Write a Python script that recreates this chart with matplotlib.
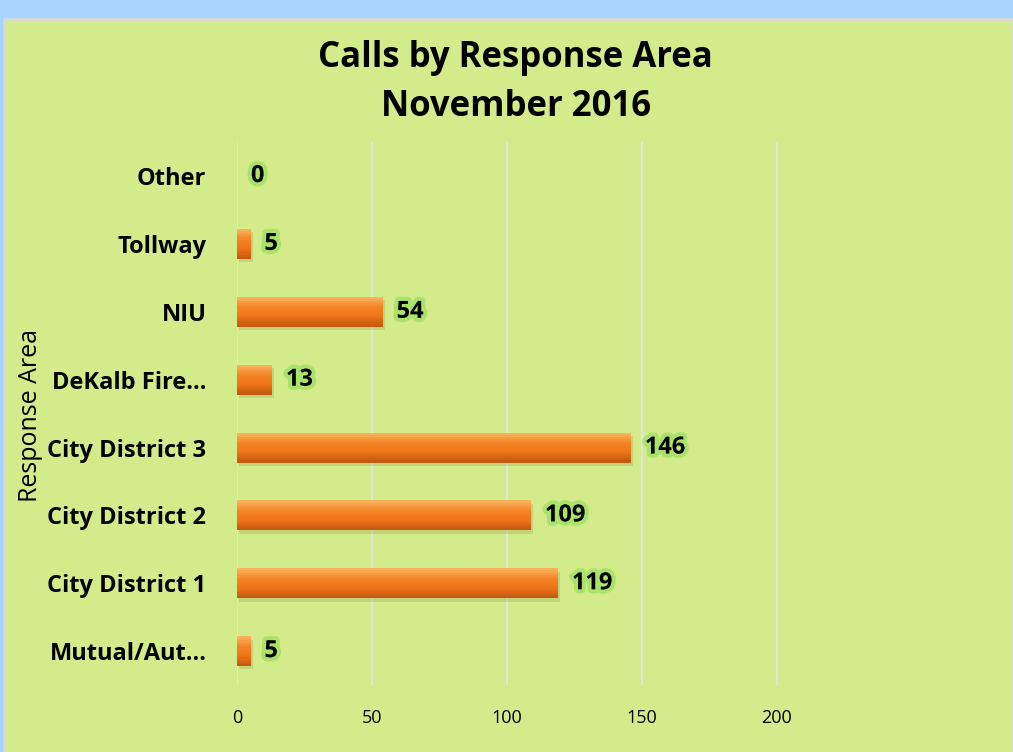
import matplotlib.pyplot as plt
import matplotlib.patheffects as pe
from matplotlib.patches import Rectangle
from matplotlib.colors import LinearSegmentedColormap

categories = ['Mutual/Aut…', 'City District 1', 'City District 2', 'City District 3',
              'DeKalb Fire…', 'NIU', 'Tollway', 'Other']
calls = [5, 119, 109, 146, 13, 54, 5, 0]
xticks = [0, 50, 100, 150, 200]

bg = '#d4eb8c'
plt.rcParams['font.family'] = ['Open Sans', 'DejaVu Sans']

fig = plt.figure(figsize=(10.13, 7.52), dpi=100, facecolor='#a8d5ff')
# chart area inside the blue frame
fig.patches.append(Rectangle((0.004, 0.0), 0.996, 0.975, transform=fig.transFigure,
                             facecolor=bg, edgecolor='#d8d8d8', linewidth=2, zorder=-1))

ax = fig.add_axes([0.234, 0.089, 0.743, 0.722])
ax.set_facecolor(bg)

pos = list(range(len(categories)))
h = 0.44
# soft shadow under the bars
ax.barh([p - 0.05 for p in pos], calls, height=h, color='#7a8a3c', alpha=0.22,
        left=0.8, linewidth=0, zorder=2)
# fake gradient: stack thin strips from top (light) to bottom (dark)
cmap = LinearSegmentedColormap.from_list('bar', ['#fbb05a', '#f58426', '#ee7418', '#c65a0e'])
n = 14
for i in range(n):
    y0 = h / 2 - (i + 1) * h / n
    ax.barh([p + y0 + h / (2 * n) for p in pos], calls, height=h / n + 0.002,
            color=cmap(i / (n - 1)), linewidth=0, zorder=3)

glow = [pe.withStroke(linewidth=6, foreground='#8fdc55', alpha=0.6)]
for p, v in zip(pos, calls):
    ax.annotate(str(v), (v, p), xytext=(10, 0), textcoords='offset points',
                ha='left', va='center', fontsize=17, fontweight='bold',
                color='black', path_effects=glow, zorder=5)

ax.set_xlim(0, 279)
ax.set_ylim(-0.5, len(categories) - 0.5)
ax.set_xticks(xticks)
ax.set_yticks(pos)
ax.set_yticklabels(categories, fontsize=17, fontweight='bold')
ax.tick_params(axis='y', length=0, pad=22)
ax.tick_params(axis='x', length=0, pad=17, labelsize=13)
ax.grid(axis='x', color='#e6e6e6', linewidth=1.2, zorder=0)
ax.axvline(0, color='#d9d9d9', linewidth=1.2, zorder=1)
for s in ax.spines.values():
    s.set_visible(False)

fig.text(0.030, 0.448, 'Response Area', rotation=90, ha='center', va='center',
         fontsize=18)
fig.text(0.509, 0.890, 'Calls by Response Area\nNovember 2016', ha='center', va='center',
         fontsize=25, fontweight='bold', linespacing=1.5)

fig.savefig('out.png', dpi=100, facecolor=fig.get_facecolor())
